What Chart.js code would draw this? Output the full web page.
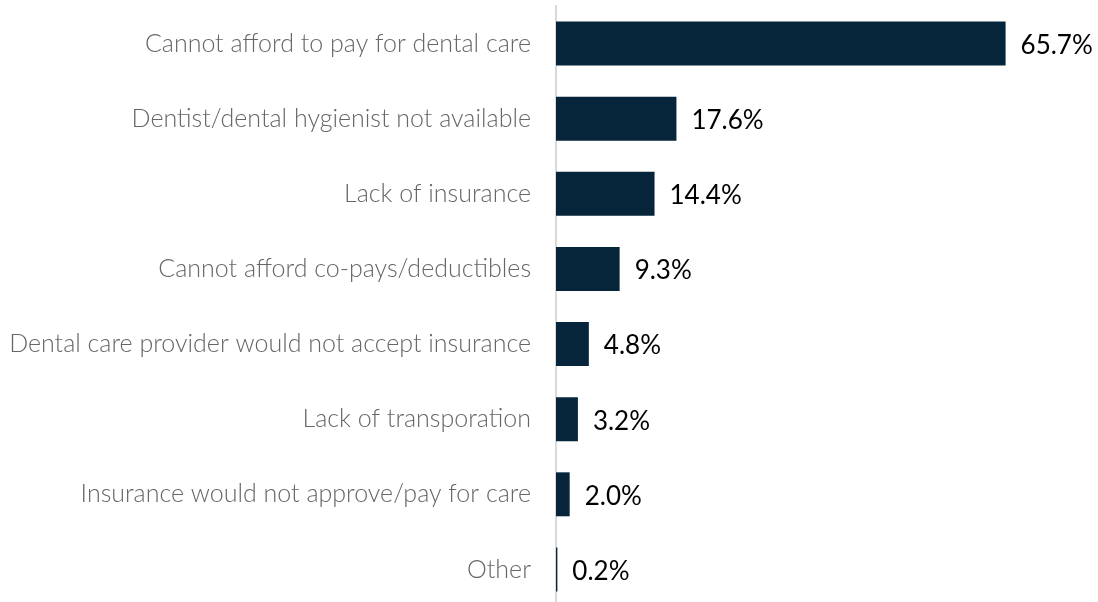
<!DOCTYPE html>
<html>
<head>
<meta charset="utf-8">
<script src="https://cdn.jsdelivr.net/npm/chart.js@4"></script>
<style>
  html, body { margin: 0; padding: 0; background: #fff; overflow: hidden; }
  #wrap { width: 1098px; height: 602px; overflow: hidden; }
</style>
</head>
<body>
<div id="wrap"><canvas id="chart" width="1098" height="607"></canvas></div>
<script>
const reasons = [
  'Cannot afford to pay for dental care',
  'Dentist/dental hygienist not available',
  'Lack of insurance',
  'Cannot afford co-pays/deductibles',
  'Dental care provider would not accept insurance',
  'Lack of transporation',
  'Insurance would not approve/pay for care',
  'Other'
];
const percents = [65.7, 17.6, 14.4, 9.3, 4.8, 3.2, 2.0, 0.2];

// draws the value text right of each bar
const valueLabels = {
  id: 'valueLabels',
  afterDatasetsDraw(chart) {
    const ctx = chart.ctx;
    const meta = chart.getDatasetMeta(0);
    ctx.save();
    ctx.fillStyle = '#000';
    ctx.font = '26px Lato';
    ctx.textBaseline = 'middle';
    ctx.textAlign = 'left';
    meta.data.forEach((bar, i) => {
      ctx.fillText(percents[i].toFixed(1) + '%', bar.x + 15, bar.y + 2);
    });
    ctx.restore();
  }
};

new Chart(document.getElementById('chart').getContext('2d'), {
  type: 'bar',
  data: {
    labels: reasons,
    datasets: [{
      data: percents,
      backgroundColor: '#06243a',
      barPercentage: 0.585,
      categoryPercentage: 1
    }]
  },
  options: {
    indexAxis: 'y',
    responsive: false,
    animation: false,
    layout: { padding: { top: 6, right: 63, bottom: 0, left: 0 } },
    plugins: {
      legend: { display: false },
      tooltip: { enabled: false }
    },
    scales: {
      x: {
        display: false,
        min: 0,
        max: 70
      },
      y: {
        grid: { display: false, drawTicks: false },
        border: { display: true, color: '#d9d9d9', width: 2 },
        ticks: {
          color: '#666666',
          font: { family: 'Lato', size: 25, weight: 300 },
          padding: 25
        },
        afterFit(scale) {
          scale.width = 556;
          scale.paddingTop = 0;
          scale.paddingBottom = 0;
        }
      }
    }
  },
  plugins: [valueLabels]
});
</script>
</body>
</html>
